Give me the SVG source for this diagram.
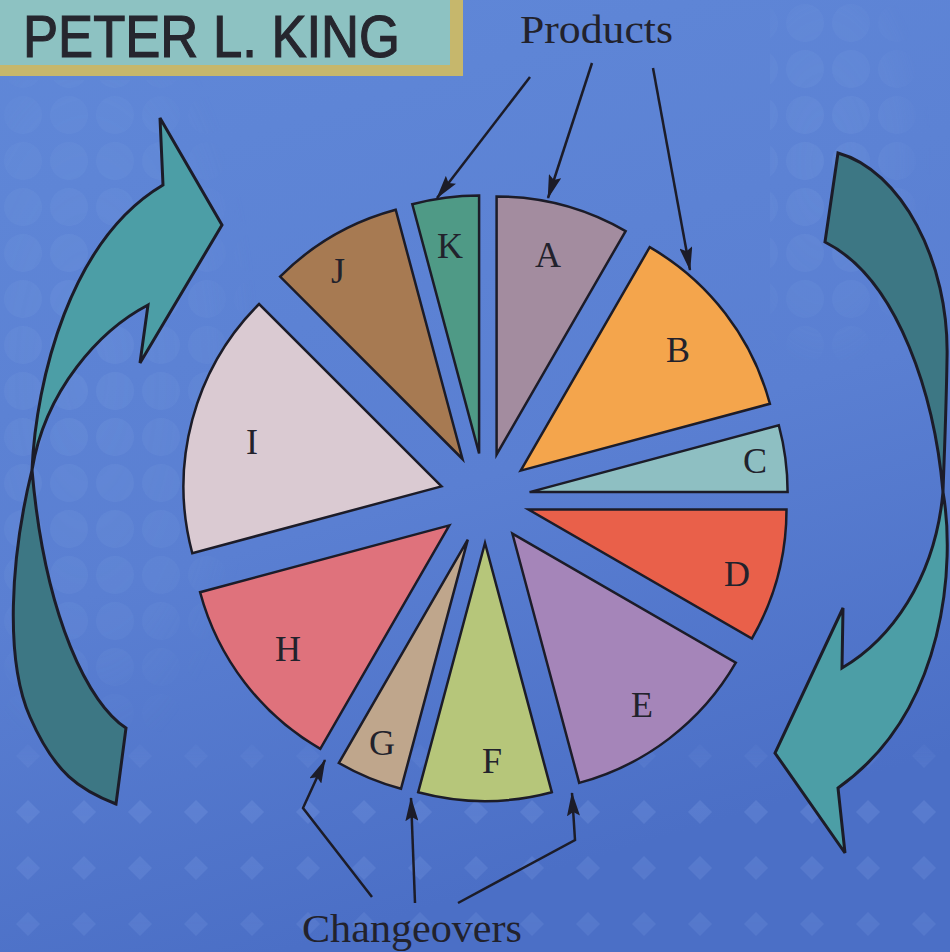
<svg xmlns="http://www.w3.org/2000/svg" width="950" height="952" viewBox="0 0 950 952">
  <defs>
    <linearGradient id="bg" x1="0" y1="0" x2="0.3" y2="1">
      <stop offset="0" stop-color="#6088d8"/>
      <stop offset="0.6" stop-color="#5a7fd2"/>
      <stop offset="1" stop-color="#4b6fc6"/>
    </linearGradient>
    <pattern id="dots" x="0" y="0" width="46" height="46" patternUnits="userSpaceOnUse">
      <circle cx="23" cy="23" r="19" fill="#8fb0ee" fill-opacity="0.14"/>
    </pattern>
    <pattern id="diamonds" x="0" y="0" width="56" height="56" patternUnits="userSpaceOnUse">
      <path d="M28,16 L40,28 L28,40 L16,28 Z" fill="#8fb0ee" fill-opacity="0.2"/>
    </pattern>
    <radialGradient id="fadeL" cx="0.3" cy="0.45" r="0.6">
      <stop offset="0" stop-color="#fff" stop-opacity="1"/>
      <stop offset="0.7" stop-color="#fff" stop-opacity="0.6"/>
      <stop offset="1" stop-color="#fff" stop-opacity="0"/>
    </radialGradient>
    <linearGradient id="fadeB" x1="0" y1="0" x2="0" y2="1">
      <stop offset="0" stop-color="#fff" stop-opacity="0"/>
      <stop offset="0.35" stop-color="#fff" stop-opacity="1"/>
      <stop offset="1" stop-color="#fff" stop-opacity="0.7"/>
    </linearGradient>
    <mask id="mL" maskUnits="userSpaceOnUse" x="0" y="0" width="950" height="952">
      <rect x="0" y="80" width="290" height="660" fill="url(#fadeL)"/>
      <rect x="770" y="0" width="180" height="360" fill="url(#fadeL)"/>
    </mask>
    <mask id="mB" maskUnits="userSpaceOnUse" x="0" y="0" width="950" height="952">
      <rect x="0" y="720" width="950" height="232" fill="url(#fadeB)"/>
    </mask>
    <marker id="ah" viewBox="0 0 24 13" refX="23" refY="6.5" markerWidth="24" markerHeight="13" markerUnits="userSpaceOnUse" orient="auto">
      <path d="M0,0 L24,6.5 L0,13 L4,6.5 Z" fill="#1c1c28"/>
    </marker>
    <style>
      .wedge { stroke: #1c1c28; stroke-width: 2.5; stroke-linejoin: miter; }
      .lbl { font-family: "Liberation Serif", "DejaVu Serif", serif; font-size: 36px; fill: #22222c; text-anchor: middle; }
      .cap { font-family: "Liberation Serif", "DejaVu Serif", serif; font-size: 40px; fill: #22222c; }
      .conn { fill: none; stroke: #1c1c28; stroke-width: 2.5; marker-end: url(#ah); }
      .bigarrow { stroke: #1c1c28; stroke-width: 3; stroke-linejoin: miter; }
      .light { fill: #4c9ea6; }
      .dark { fill: #3d7784; }
    </style>
  </defs>

  <!-- background -->
  <rect x="0" y="0" width="950" height="952" fill="url(#bg)"/>
  <g mask="url(#mL)">
    <rect x="0" y="0" width="950" height="952" fill="url(#dots)"/>
  </g>
  <g mask="url(#mB)">
    <rect x="0" y="0" width="950" height="952" fill="url(#diamonds)"/>
  </g>

  <!-- title box -->
  <g id="title">
    <rect x="0" y="0" width="463" height="76" fill="#c6b76c"/>
    <rect x="0" y="0" width="450" height="65" fill="#8dc2c2"/>
    <text x="23" y="57" font-family="'Liberation Sans', 'DejaVu Sans', sans-serif" font-size="60" fill="#26262e" stroke="#26262e" stroke-width="1.2" textLength="377" lengthAdjust="spacingAndGlyphs">PETER L. KING</text>
  </g>

  <!-- big curved arrows -->
  <g id="left-arrow">
    <path class="bigarrow dark" d="M32,470 C10,560 5,660 30,717 S80,790 116,804 L126,728 C90,705 45,620 32,470 Z"/>
    <path class="bigarrow light" d="M32,470 C36,380 70,240 163,185 L160,118 L222,225 L140,363 L148,305 C100,330 45,390 32,470 Z"/>
  </g>
  <g id="right-arrow">
    <path class="bigarrow dark" d="M838,153 C900,170 950,260 947,360 C946,420 944,460 943,492 C935,400 900,280 825,242 Z"/>
    <path class="bigarrow light" d="M943,492 C955,560 948,710 838,788 L845,853 L775,753 L843,608 L842,668 C890,640 935,580 943,492 Z"/>
  </g>

  <!-- pie wedges -->
  <g id="wedge-A">
    <path class="wedge" fill="#a38c9f" d="M496.6,454.5 L496.6,196.5 A258,258 0 0 1 625.6,231.1 Z"/>
    <text class="lbl" x="548" y="267">A</text>
  </g>
  <g id="wedge-B">
    <path class="wedge" fill="#f4a54c" d="M520.7,470.6 L649.7,247.2 A258,258 0 0 1 769.9,403.8 Z"/>
    <text class="lbl" x="678" y="362">B</text>
  </g>
  <g id="wedge-C">
    <path class="wedge" fill="#8ebfc2" d="M529.6,492.1 L778.8,425.3 A258,258 0 0 1 787.6,492.1 Z"/>
    <text class="lbl" x="755" y="473">C</text>
  </g>
  <g id="wedge-D">
    <path class="wedge" fill="#e9604a" d="M528.5,509.6 L786.5,509.6 A258,258 0 0 1 751.9,638.6 Z"/>
    <text class="lbl" x="737" y="586">D</text>
  </g>
  <g id="wedge-E">
    <path class="wedge" fill="#a585b9" d="M512.4,533.7 L735.8,662.7 A258,258 0 0 1 579.2,782.9 Z"/>
    <text class="lbl" x="642" y="717">E</text>
  </g>
  <g id="wedge-F">
    <path class="wedge" fill="#b6c67a" d="M485,543 L551.8,792.2 A258,258 0 0 1 418.2,792.2 Z"/>
    <text class="lbl" x="492" y="773">F</text>
  </g>
  <g id="wedge-G">
    <path class="wedge" fill="#bfa68c" d="M467.8,539.6 L401.0,788.8 A258,258 0 0 1 338.8,763.0 Z"/>
    <text class="lbl" x="382" y="755">G</text>
  </g>
  <g id="wedge-H">
    <path class="wedge" fill="#df727c" d="M449.3,525.4 L320.3,748.8 A258,258 0 0 1 200.1,592.2 Z"/>
    <text class="lbl" x="288" y="661">H</text>
  </g>
  <g id="wedge-I">
    <path class="wedge" fill="#dacad2" d="M441.5,486.4 L192.3,553.2 A258,258 0 0 1 259.1,304.0 Z"/>
    <text class="lbl" x="252" y="454">I</text>
  </g>
  <g id="wedge-J">
    <path class="wedge" fill="#a77a52" d="M462.5,459.0 L280.1,276.6 A258,258 0 0 1 395.7,209.8 Z"/>
    <text class="lbl" x="338" y="283">J</text>
  </g>
  <g id="wedge-K">
    <path class="wedge" fill="#4f9a86" d="M479.1,453.4 L412.3,204.2 A258,258 0 0 1 479.1,195.4 Z"/>
    <text class="lbl" x="450" y="258">K</text>
  </g>

  <!-- captions -->
  <g id="products">
    <text class="cap" x="520" y="43" textLength="153" lengthAdjust="spacingAndGlyphs">Products</text>
  </g>
  <g id="changeovers">
    <text class="cap" x="302" y="942" textLength="220" lengthAdjust="spacingAndGlyphs">Changeovers</text>
  </g>

  <!-- connectors -->
  <g id="connectors">
    <path class="conn" d="M530,77 L437,198"/>
    <path class="conn" d="M592,63 L548,198"/>
    <path class="conn" d="M653,68 L690,270"/>
    <path class="conn" d="M372,897 L303,808 L325,760"/>
    <path class="conn" d="M415,903 L411,798"/>
    <path class="conn" d="M458,903 L575,840 L572,793"/>
  </g>
</svg>
